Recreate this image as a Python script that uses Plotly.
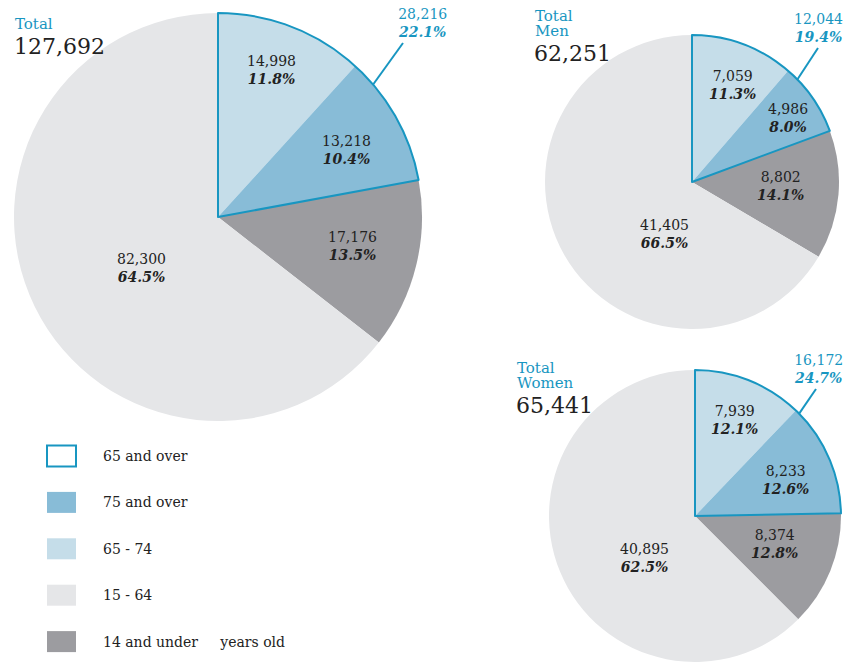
import math
import plotly.graph_objects as go

# ---------------- data ----------------
categories = ["65 - 74", "75 and over", "14 and under", "15 - 64"]
total_values = [14998, 13218, 17176, 82300]
total_pct = ["11.8%", "10.4%", "13.5%", "64.5%"]
men_values = [7059, 4986, 8802, 41405]
men_pct = ["11.3%", "8.0%", "14.1%", "66.5%"]
women_values = [7939, 8233, 8374, 40895]
women_pct = ["12.1%", "12.6%", "12.8%", "62.5%"]

group_title_lines = [["Total"], ["Total", "Men"], ["Total", "Women"]]
group_totals = [127692, 62251, 65441]
senior_totals = [28216, 12044, 16172]
senior_pct = ["22.1%", "19.4%", "24.7%"]

legend_labels = ["65 and over", "75 and over", "65 - 74", "15 - 64",
                 "14 and under\u00a0\u00a0\u00a0\u00a0\u00a0years old"]

# ---------------- style ----------------
W, H = 844, 664
FONT = "DejaVu Serif"
BLUE = "#1896c1"
slice_colors = ["#c5dde9", "#88bcd7", "#9c9ca0", "#e5e6e8"]
legend_fill = ["rgba(0,0,0,0)", "#88bcd7", "#c5dde9", "#e5e6e8", "#9c9ca0"]
TXT = "#222222"

# pie geometry (pixel centre, radius), label radius fractions, angle tweaks
pies = [
    dict(values=total_values, pct=total_pct, c=(218, 217), r=204,
         lr=[0.766, 0.708, 0.672, 0.45], da=[-1.3, 1.5, -1.6, -8],
         title=(13, 13), callout=(204, -194), lead=(49.5, 185, -174)),
    dict(values=men_values, pct=men_pct, c=(692, 182), r=147,
         lr=[0.714, 0.785, 0.60, 0.40], da=[2, 1, -2.5, -32],
         title=(533, 5), callout=(126, -154), lead=(45.8, 126, -134)),
    dict(values=women_values, pct=women_pct, c=(695, 516), r=146,
         lr=[0.71, 0.67, 0.58, 0.45], da=[0.3, 2, -2.7, -17.5],
         title=(515, 357), callout=(123, -147), lead=(45.5, 121, -127)),
]


def P(x, y):
    return x / W, 1 - y / H


fig = go.Figure()
annotations = []
shapes = []

for i, p in enumerate(pies):
    cx, cy = p["c"]
    r = p["r"]
    dom = dict(x=[(cx - r) / W, (cx + r) / W], y=[1 - (cy + r) / H, 1 - (cy - r) / H])
    fig.add_trace(go.Pie(
        values=p["values"], labels=categories, sort=False, direction="clockwise",
        rotation=0, domain=dom, textinfo="none", textposition="none",
        marker=dict(colors=slice_colors, line=dict(width=0)),
        showlegend=False, hoverinfo="label+value",
    ))
    vals = p["values"]
    tot = sum(vals)
    senior = vals[0] + vals[1]
    # outline of "65 and over" sector
    fig.add_trace(go.Pie(
        values=[senior, tot - senior], labels=["65 and over", "other"], sort=False,
        direction="clockwise", rotation=0, domain=dom, textinfo="none",
        textposition="none",
        marker=dict(colors=["rgba(0,0,0,0)", "rgba(0,0,0,0)"],
                    line=dict(color=[BLUE, "rgba(0,0,0,0)"], width=[2, 0])),
        showlegend=False, hoverinfo="skip",
    ))
    # slice labels
    cum = 0
    for k, v in enumerate(vals):
        mid = (cum + v / 2) / tot * 360 + p["da"][k]
        cum += v
        rr = r * p["lr"][k]
        x = cx + rr * math.sin(math.radians(mid))
        y = cy - rr * math.cos(math.radians(mid))
        xp, yp = P(x, y)
        annotations.append(dict(
            x=xp, y=yp, xref="paper", yref="paper", showarrow=False,
            xanchor="center", yanchor="middle",
            text=f"{v:,}<br><b><i>{p['pct'][k]}</i></b>",
            font=dict(family=FONT, size=14, color=TXT), align="center"))
    # callout for 65 and over
    ang, ex, ey = p["lead"]
    sx = cx + r * math.sin(math.radians(ang))
    sy = cy - r * math.cos(math.radians(ang))
    x0, y0 = P(sx, sy)
    x1, y1 = P(cx + ex, cy + ey)
    shapes.append(dict(type="line", xref="paper", yref="paper", x0=x0, y0=y0,
                       x1=x1, y1=y1, line=dict(color=BLUE, width=2)))
    lx, ly = P(cx + p["callout"][0], cy + p["callout"][1])
    annotations.append(dict(
        x=lx, y=ly, xref="paper", yref="paper", showarrow=False,
        xanchor="center", yanchor="middle",
        text=f"{senior_totals[i]:,}<br><b><i>{senior_pct[i]}</i></b>",
        font=dict(family=FONT, size=14, color=BLUE), align="center"))
    # titles
    tx, ty = p["title"]
    for j, line in enumerate(group_title_lines[i]):
        ax, ay = P(tx, ty + j * 15)
        annotations.append(dict(
            x=ax, y=ay, xref="paper", yref="paper", showarrow=False,
            xanchor="left", yanchor="top", text=line,
            font=dict(family=FONT, size=15, color=BLUE)))
    ax, ay = P(tx - 1, ty + len(group_title_lines[i]) * 15 + 4)
    annotations.append(dict(
        x=ax, y=ay, xref="paper", yref="paper", showarrow=False,
        xanchor="left", yanchor="top", text=f"{group_totals[i]:,}",
        font=dict(family=FONT, size=22, color=TXT)))

# legend
for k, lab in enumerate(legend_labels):
    yc = 456 + k * 46.4
    bx0, by0 = P(47, yc - 10.5)
    bx1, by1 = P(76, yc + 10.5)
    if k == 0:
        shapes.append(dict(type="rect", xref="paper", yref="paper", x0=bx0, y0=by0,
                           x1=bx1, y1=by1, fillcolor="white",
                           line=dict(color=BLUE, width=2)))
    else:
        shapes.append(dict(type="rect", xref="paper", yref="paper", x0=bx0, y0=by0,
                           x1=bx1, y1=by1, fillcolor=legend_fill[k],
                           line=dict(width=0)))
    tx, ty = P(101, yc)
    annotations.append(dict(
        x=tx, y=ty, xref="paper", yref="paper", showarrow=False,
        xanchor="left", yanchor="middle", text=lab,
        font=dict(family=FONT, size=14, color=TXT)))

fig.update_layout(
    width=W, height=H, margin=dict(l=0, r=0, t=0, b=0),
    paper_bgcolor="white", plot_bgcolor="white",
    annotations=annotations, shapes=shapes, showlegend=False,
)

fig.write_html("out.html")
